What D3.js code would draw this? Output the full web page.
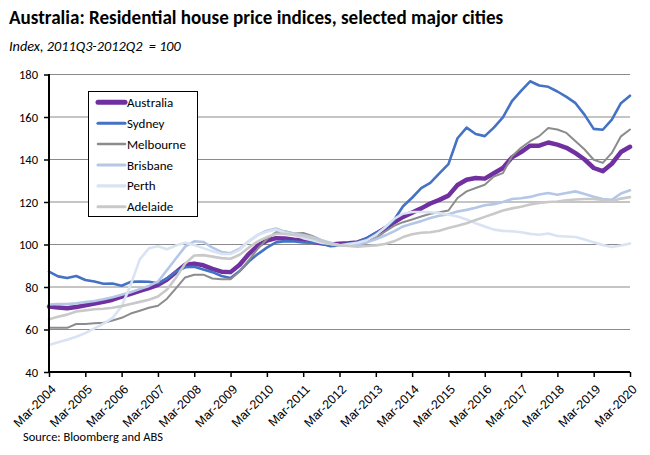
<!DOCTYPE html>
<html><head><meta charset="utf-8">
<script src="https://cdn.jsdelivr.net/npm/d3@7"></script>
<style>
body{margin:0;background:#fff;}
svg{display:block;font-family:Carlito,Lato,"Open Sans",sans-serif;}
</style></head>
<body><svg id="c" width="650" height="455"></svg>
<script>
const categories = [
"Mar-2004","Jun-2004","Sep-2004","Dec-2004","Mar-2005","Jun-2005","Sep-2005","Dec-2005",
"Mar-2006","Jun-2006","Sep-2006","Dec-2006","Mar-2007","Jun-2007","Sep-2007","Dec-2007",
"Mar-2008","Jun-2008","Sep-2008","Dec-2008","Mar-2009","Jun-2009","Sep-2009","Dec-2009",
"Mar-2010","Jun-2010","Sep-2010","Dec-2010","Mar-2011","Jun-2011","Sep-2011","Dec-2011",
"Mar-2012","Jun-2012","Sep-2012","Dec-2012","Mar-2013","Jun-2013","Sep-2013","Dec-2013",
"Mar-2014","Jun-2014","Sep-2014","Dec-2014","Mar-2015","Jun-2015","Sep-2015","Dec-2015",
"Mar-2016","Jun-2016","Sep-2016","Dec-2016","Mar-2017","Jun-2017","Sep-2017","Dec-2017",
"Mar-2018","Jun-2018","Sep-2018","Dec-2018","Mar-2019","Jun-2019","Sep-2019","Dec-2019",
"Mar-2020"];
const xTickLabels = ["Mar-2004","Mar-2005","Mar-2006","Mar-2007","Mar-2008","Mar-2009","Mar-2010","Mar-2011","Mar-2012","Mar-2013","Mar-2014","Mar-2015","Mar-2016","Mar-2017","Mar-2018","Mar-2019","Mar-2020"];
const yTicks = [40,60,80,100,120,140,160,180];

const australia = [70.8,70.3,70.0,70.6,71.4,72.2,73.0,74.0,75.5,76.8,78.2,79.5,81.0,83.5,87.0,90.5,
91.0,90.2,88.5,87.2,87.0,90.5,95.5,99.5,101.8,103.0,102.8,102.2,102.0,101.3,100.6,100.0,
100.3,100.6,101.0,102.5,105.0,107.5,110.5,113.0,115.0,117.0,119.3,121.0,123.0,128.0,130.5,131.3,
131.0,133.5,136.0,141.0,143.5,146.5,146.5,148.0,147.0,145.5,143.0,140.0,136.0,134.5,138.0,143.5,146.0];
const sydney = [87.2,85.0,84.2,85.2,83.3,82.6,81.5,81.6,80.6,82.4,82.6,82.5,81.8,84.0,87.3,89.3,
89.5,88.2,87.0,85.2,84.2,87.5,92.0,95.5,98.5,101.0,101.6,101.4,101.0,100.8,100.6,99.2,
99.6,100.4,101.2,103.0,105.5,107.5,111.5,118.0,122.0,126.5,129.0,133.5,137.8,150.0,155.0,152.0,
151.0,155.0,159.8,167.5,172.3,176.8,174.8,174.2,172.0,169.5,166.5,161.0,154.4,154.0,158.8,166.5,170.0];
const melbourne = [60.8,60.8,60.8,62.6,62.6,62.9,63.2,64.2,65.5,67.5,68.8,70.2,71.2,74.5,79.5,84.5,
85.8,85.8,84.0,83.6,83.6,87.3,92.5,98.0,102.5,105.8,106.2,105.2,105.4,104.0,102.0,100.5,
100.0,99.8,99.8,101.0,103.0,106.0,108.8,110.5,111.8,113.2,114.5,115.2,116.0,121.9,125.0,126.6,
128.1,132.0,133.6,141.5,145.5,148.6,151.0,154.8,154.1,152.5,148.6,144.7,139.9,138.4,143.1,150.9,154.1];
const brisbane = [71.8,72.0,72.0,72.3,72.9,73.4,74.2,75.2,76.3,77.5,79.0,80.5,82.5,88.0,93.5,99.0,
101.5,101.2,98.5,96.5,95.9,98.0,101.5,104.5,106.5,107.5,106.0,105.2,104.5,103.5,102.0,100.8,
99.6,99.5,100.0,101.0,102.5,104.2,106.2,108.5,109.8,111.0,112.5,113.5,114.2,115.5,116.3,117.3,
118.5,119.0,120.0,121.4,121.8,122.4,123.5,124.2,123.4,124.2,125.0,123.8,122.5,121.4,121.0,124.0,125.5];
const perth = [52.7,54.0,55.2,56.6,58.3,60.5,62.8,65.5,70.8,81.0,93.0,98.2,99.2,97.8,99.5,100.8,
99.8,98.3,96.8,95.6,95.5,97.5,101.5,104.5,106.0,107.0,105.5,104.5,103.0,102.0,100.8,100.2,
99.5,100.2,100.8,102.0,104.5,108.0,112.0,114.5,115.3,115.3,115.2,114.8,114.0,113.2,111.8,110.0,
108.5,107.0,106.4,106.2,105.8,105.0,104.6,105.2,104.0,103.8,103.5,102.4,101.0,99.8,98.8,99.5,100.5];
const adelaide = [64.8,66.0,67.0,68.5,69.0,69.5,69.8,70.2,71.0,72.0,73.0,74.0,75.5,78.8,84.5,91.0,
94.8,95.0,94.3,93.6,93.3,95.2,98.5,101.5,103.5,105.0,105.0,104.5,104.0,103.0,101.5,100.3,
99.6,99.3,99.0,99.3,99.6,100.2,101.5,103.5,104.8,105.5,105.8,106.5,107.8,108.8,110.0,111.5,
113.0,114.5,116.0,117.0,117.8,118.8,119.5,120.0,120.2,120.8,121.2,121.4,121.4,121.0,120.3,121.6,122.3];

const seriesNames = ["Australia","Sydney","Melbourne","Brisbane","Perth","Adelaide"];
const seriesValues = [australia, sydney, melbourne, brisbane, perth, adelaide];
const seriesColors = ["#7030A0","#4472C4","#8C8C8C","#B4C7E7","#DAE3F3","#C9C9C9"];
const seriesWidths = [4.5,2.6,2,2.6,2.6,2.6];

const svg = d3.select("#c");
const L = 49, R = 630, T = 74.5, B = 372;
const x = d3.scalePoint().domain(categories).range([L, R]);
const y = d3.scaleLinear().domain([40, 180]).range([B, T]);

function fit(sel, target){
  const n = sel.node(); let fs = parseFloat(sel.attr("font-size"));
  for(let k=0;k<3;k++){ const w = n.getComputedTextLength(); if(w>0){ fs *= target/w; sel.attr("font-size", fs);} }
}

// title
const title = svg.append("text").attr("x",9).attr("y",24).attr("font-size",17).attr("font-weight","bold")
  .attr("fill","#000").text("Australia: Residential house price indices, selected major cities");
fit(title, 494);
const sub = svg.append("text").attr("x",9).attr("y",51).attr("font-size",13).attr("font-style","italic")
  .attr("fill","#000").text("Index, 2011Q3-2012Q2  = 100").attr("xml:space","preserve");
fit(sub, 172);

// gridlines
svg.append("g").selectAll("line").data(yTicks.filter(v=>v>40)).join("line")
  .attr("x1",L).attr("x2",R).attr("y1",d=>y(d)).attr("y2",d=>y(d))
  .attr("stroke","#8a8a8a").attr("stroke-width",1);

// lines
const line = d3.line().x((d,i)=>x(categories[i])).y(d=>y(d));
svg.append("g").selectAll("path").data(seriesValues).join("path")
  .attr("d", d=>line(d)).attr("fill","none")
  .attr("stroke",(d,i)=>seriesColors[i]).attr("stroke-width",(d,i)=>seriesWidths[i])
  .attr("stroke-linejoin","round").attr("stroke-linecap","round");

// y axis
const yAxis = svg.append("g").attr("transform",`translate(${L},0)`)
  .call(d3.axisLeft(y).tickValues(yTicks).tickSize(5).tickPadding(6).tickFormat(d3.format("d")));
yAxis.select(".domain").attr("stroke","#000").attr("stroke-width",2).attr("d",`M0,${T-0.5}V${B}`);
yAxis.selectAll(".tick line").attr("stroke","#000").attr("stroke-width",1.5);
yAxis.selectAll(".tick text").attr("font-size",12.5).attr("fill","#000").attr("font-family","Carlito,Lato,sans-serif");

// x axis
const xAxis = svg.append("g").attr("transform",`translate(0,${B})`)
  .call(d3.axisBottom(x).tickValues(xTickLabels).tickSize(5).tickPadding(3));
xAxis.select(".domain").attr("stroke","#000").attr("stroke-width",2).attr("d",`M${L},0H${R}`);
xAxis.selectAll(".tick line").attr("stroke","#000").attr("stroke-width",1.5);
xAxis.selectAll(".tick text").attr("font-size",12.5).attr("fill","#000")
  .attr("text-anchor","end").attr("dy","0.35em")
  .attr("transform","translate(4,15) rotate(-45)").attr("y",0).attr("x",0);

// legend
const lg = svg.append("g");
lg.append("rect").attr("x",88.5).attr("y",91.5).attr("width",109).attr("height",125)
  .attr("fill","#fff").attr("stroke","#000").attr("stroke-width",1);
const items = lg.selectAll("g.it").data(seriesNames).join("g").attr("class","it")
  .attr("transform",(d,i)=>`translate(0,${102.3+i*20.9})`);
items.append("line").attr("x1",98).attr("x2",125).attr("y1",0).attr("y2",0)
  .attr("stroke",(d,i)=>seriesColors[i]).attr("stroke-width",(d,i)=>seriesWidths[i]+0.5).attr("stroke-linecap","round");
items.append("text").attr("x",127).attr("y",0).attr("dy","0.35em").attr("font-size",13).attr("fill","#000").text(d=>d);

// source
const src = svg.append("text").attr("x",23).attr("y",441).attr("font-size",11.5).attr("fill","#000").text("Source: Bloomberg and ABS");
fit(src, 140);
</script></body></html>
